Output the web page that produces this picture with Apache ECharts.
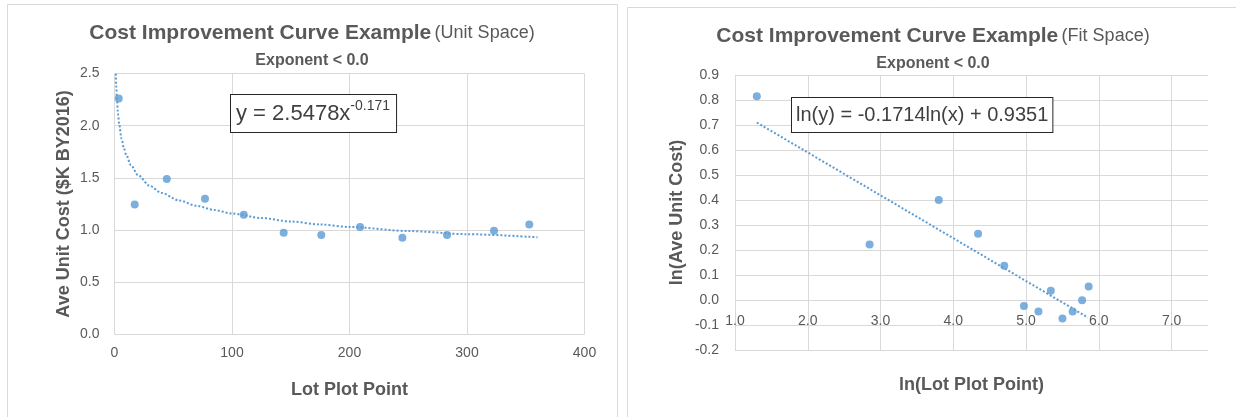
<!DOCTYPE html>
<html><head><meta charset="utf-8">
<script src="https://cdn.jsdelivr.net/npm/echarts@6/dist/echarts.min.js"></script>
<style>html,body{margin:0;padding:0;background:#fff}#c{width:1236px;height:417px}</style>
</head><body><div id="c"></div>
<script>
// ---- Unit space (left chart) ----
const lotPlotPoint = [3.6, 17.2, 44.5, 77, 110, 144, 176, 209, 245, 283, 323, 353];
const aveUnitCost  = [2.26, 1.245, 1.49, 1.30, 1.147, 0.975, 0.952, 1.03, 0.926, 0.952, 0.993, 1.053];
// power trendline as drawn (y = 2.5478x^-0.171)
const unitTrendX = [1.12, 1.5, 2, 3, 4, 6, 8, 10, 14, 20, 30, 40, 55, 70, 85, 100, 125, 150, 175, 200, 250, 300, 360];
const unitTrendY = [2.499, 2.377, 2.263, 2.111, 2.010, 1.875, 1.785, 1.719, 1.622, 1.526, 1.424, 1.356, 1.284, 1.232, 1.192, 1.159, 1.116, 1.082, 1.054, 1.030, 0.991, 0.961, 0.931];
// ---- Fit space (right chart) ----
const lnLotPlotPoint = [1.30, 2.85, 3.80, 4.34, 4.70, 4.97, 5.17, 5.34, 5.50, 5.64, 5.77, 5.86];
const lnAveUnitCost  = [0.815, 0.222, 0.400, 0.265, 0.137, -0.024, -0.046, 0.037, -0.074, -0.046, -0.001, 0.054];
const fitTrendX = [1.30, 5.85];
const fitTrendY = [0.71, -0.07];
// ---- text ----
const leftTitle = 'Cost Improvement Curve Example', leftTitleNote = '(Unit Space)';
const rightTitle = 'Cost Improvement Curve Example', rightTitleNote = '(Fit Space)';
const subTitle = 'Exponent < 0.0';
const leftEqMain = 'y = 2.5478x', leftEqSup = '-0.171';
const rightEq = 'ln(y) = -0.1714ln(x) + 0.9351';

const FONT = '"Liberation Sans", Arial, sans-serif';
const TXT = '#595959';
const GRID = '#d9d9d9';
const BLUE = '#5b9bd5';
const pairs = (xs, ys) => xs.map((x, i) => [x, ys[i]]);
const fmt1 = v => (Math.round(v * 10) / 10).toFixed(1);

const chart = echarts.init(document.getElementById('c'));
const nameStyle = {fontSize: 18, fontWeight: 'bold', color: TXT, fontFamily: FONT};
const labelStyle = {color: TXT, fontSize: 14, fontFamily: FONT};

const option = {
  animation: false,
  textStyle: {fontFamily: FONT},
  grid: [
    {left: 114.5, top: 73.5, width: 470, height: 261},
    {left: 735, top: 75, width: 473, height: 275}
  ],
  xAxis: [
    {gridIndex: 0, type: 'value', min: 0, max: 400, interval: 100,
     name: 'Lot Plot Point', nameLocation: 'middle', nameGap: 47, nameTextStyle: nameStyle,
     axisLine: {show: false}, axisTick: {show: false},
     axisLabel: Object.assign({margin: 12}, labelStyle),
     splitLine: {lineStyle: {color: GRID}}},
    {gridIndex: 1, type: 'value', min: 1, max: 7.5, interval: 1, offset: -36,
     name: 'ln(Lot Plot Point)', nameLocation: 'middle', nameGap: 62, nameTextStyle: nameStyle,
     axisLine: {show: false}, axisTick: {show: false},
     axisLabel: Object.assign({margin: 0, showMaxLabel: false, formatter: fmt1}, labelStyle),
     splitLine: {showMaxLine: false, lineStyle: {color: GRID}}}
  ],
  yAxis: [
    {gridIndex: 0, type: 'value', min: 0, max: 2.5, interval: 0.5,
     name: 'Ave Unit Cost ($K BY2016)', nameLocation: 'middle', nameGap: 41, nameTextStyle: nameStyle,
     axisLine: {show: false}, axisTick: {show: false},
     axisLabel: Object.assign({margin: 15, formatter: fmt1}, labelStyle),
     splitLine: {lineStyle: {color: GRID}}},
    {gridIndex: 1, type: 'value', min: -0.2, max: 0.9, interval: 0.1,
     name: 'ln(Ave Unit Cost)', nameLocation: 'middle', nameGap: 49, nameTextStyle: nameStyle,
     axisLine: {show: false}, axisTick: {show: false},
     axisLabel: Object.assign({margin: 16, formatter: fmt1}, labelStyle),
     splitLine: {lineStyle: {color: GRID}}}
  ],
  series: [
    {type: 'line', xAxisIndex: 0, yAxisIndex: 0, data: pairs(unitTrendX, unitTrendY),
     showSymbol: false, smooth: 0.3, smoothMonotone: 'x', silent: true,
     lineStyle: {color: BLUE, width: 2, type: [2, 2]}, z: 1},
    {type: 'scatter', xAxisIndex: 0, yAxisIndex: 0, data: pairs(lotPlotPoint, aveUnitCost),
     symbolSize: 8, itemStyle: {color: BLUE}, z: 2},
    {type: 'line', xAxisIndex: 1, yAxisIndex: 1, data: pairs(fitTrendX, fitTrendY),
     showSymbol: false, silent: true,
     lineStyle: {color: BLUE, width: 2, type: [2, 2]}, z: 1},
    {type: 'scatter', xAxisIndex: 1, yAxisIndex: 1, data: pairs(lnLotPlotPoint, lnAveUnitCost),
     symbolSize: 8, itemStyle: {color: BLUE}, z: 2}
  ],
  graphic: [
    {type: 'rect', shape: {x: 7.5, y: 4.5, width: 610, height: 440}, style: {fill: 'transparent', stroke: GRID, lineWidth: 1}, z: 0},
    {type: 'rect', shape: {x: 627.5, y: 7.5, width: 640, height: 440}, style: {fill: 'transparent', stroke: GRID, lineWidth: 1}, z: 0},
    {type: 'text', x: 312, y: 33, z: 10, style: {
      text: '{b|' + leftTitle + '} {n|' + leftTitleNote + '}', align: 'center', verticalAlign: 'middle',
      rich: {b: {fontSize: 21, fontWeight: 'bold', fill: TXT, fontFamily: FONT}, n: {fontSize: 18, fill: TXT, fontFamily: FONT}}}},
    {type: 'text', x: 312, y: 61, z: 10, style: {
      text: subTitle, align: 'center', verticalAlign: 'middle', fontSize: 16, fontWeight: 'bold', fill: TXT, fontFamily: FONT}},
    {type: 'text', x: 933, y: 36, z: 10, style: {
      text: '{b|' + rightTitle + '} {n|' + rightTitleNote + '}', align: 'center', verticalAlign: 'middle',
      rich: {b: {fontSize: 21, fontWeight: 'bold', fill: TXT, fontFamily: FONT}, n: {fontSize: 18, fill: TXT, fontFamily: FONT}}}},
    {type: 'text', x: 933, y: 64, z: 10, style: {
      text: subTitle, align: 'center', verticalAlign: 'middle', fontSize: 16, fontWeight: 'bold', fill: TXT, fontFamily: FONT}},
    {type: 'text', x: 231, y: 95, z: 10, style: {
      text: '{m|' + leftEqMain + '}{s|' + leftEqSup + '}', align: 'left', verticalAlign: 'top',
      backgroundColor: '#fff', borderColor: '#262626', borderWidth: 1, padding: [4, 6, 3, 5],
      rich: {m: {fontSize: 22, fill: '#404040', fontFamily: FONT, lineHeight: 30},
             s: {fontSize: 14, fill: '#404040', fontFamily: FONT, verticalAlign: 'top', lineHeight: 18}}}},
    {type: 'text', x: 792, y: 98, z: 10, style: {
      text: rightEq, align: 'left', verticalAlign: 'top', fontSize: 20, fill: '#404040', fontFamily: FONT, lineHeight: 27,
      backgroundColor: '#fff', borderColor: '#262626', borderWidth: 1, padding: [4, 4, 3, 4]}}
  ]
};
chart.setOption(option);
</script>
</body></html>
